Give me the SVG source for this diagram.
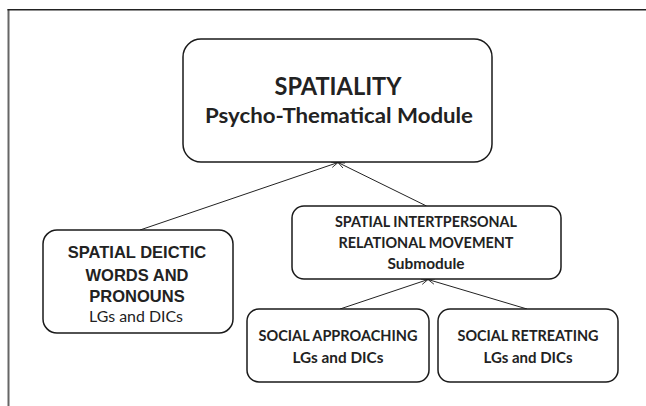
<svg xmlns="http://www.w3.org/2000/svg" width="646" height="406" viewBox="0 0 646 406">
  <style>
    .box { fill: #ffffff; stroke: #1a1a1a; stroke-width: 1.5; }
    .cal { font-family: "Lato", "Open Sans", sans-serif; font-weight: bold; fill: #222222; text-anchor: middle; }
    .calr { font-family: "Lato", "Open Sans", sans-serif; font-weight: normal; fill: #222222; text-anchor: middle; }
    .ar { font-family: "Liberation Sans", Arial, sans-serif; font-weight: bold; fill: #222222; text-anchor: middle; }
    .conn { stroke: #222222; stroke-width: 1; fill: none; marker-end: url(#open); }
  </style>
  <defs>
    <marker id="open" viewBox="0 0 10 10" refX="10" refY="5" markerWidth="7" markerHeight="7" orient="auto" markerUnits="userSpaceOnUse">
      <path d="M0,1 L10,5 L0,9" fill="none" stroke="#222222" stroke-width="1.2"/>
    </marker>
  </defs>
  <rect x="0" y="0" width="646" height="406" fill="#ffffff"/>
  <g id="frame">
    <line x1="8.5" y1="9" x2="8.5" y2="406" stroke="#666666" stroke-width="2"/>
    <line x1="7.5" y1="9.7" x2="646" y2="9.7" stroke="#222222" stroke-width="1.5"/>
  </g>
  <g id="connectors">
    <line class="conn" x1="140" y1="230" x2="338" y2="162.5"/>
    <line class="conn" x1="426.5" y1="206" x2="338" y2="162.5"/>
    <line class="conn" x1="340" y1="309" x2="428" y2="279.5"/>
    <line class="conn" x1="527" y1="309" x2="428" y2="279.5"/>
  </g>
  <g id="node-spatiality">
    <rect class="box" x="183" y="39" width="309" height="123" rx="18"/>
    <text class="cal" x="338" y="95" font-size="24" textLength="127" lengthAdjust="spacingAndGlyphs">SPATIALITY</text>
    <text class="cal" x="339" y="123" font-size="21.5" textLength="268" lengthAdjust="spacingAndGlyphs">Psycho-Thematical Module</text>
  </g>
  <g id="node-deictic">
    <rect class="box" x="43" y="230" width="190" height="103" rx="14"/>
    <text class="ar" x="137" y="258" font-size="16.5">SPATIAL DEICTIC</text>
    <text class="ar" x="137" y="281" font-size="16.5">WORDS AND</text>
    <text class="ar" x="137" y="302" font-size="16.5">PRONOUNS</text>
    <text class="calr" x="136" y="322" font-size="15.5" textLength="94" lengthAdjust="spacingAndGlyphs">LGs and DICs</text>
  </g>
  <g id="node-movement">
    <rect class="box" x="292" y="206" width="269" height="73" rx="12"/>
    <text class="cal" x="426" y="227" font-size="15" textLength="182" lengthAdjust="spacingAndGlyphs">SPATIAL INTERTPERSONAL</text>
    <text class="cal" x="426" y="248" font-size="15" textLength="175" lengthAdjust="spacingAndGlyphs">RELATIONAL MOVEMENT</text>
    <text class="cal" x="426" y="269" font-size="15" textLength="77" lengthAdjust="spacingAndGlyphs">Submodule</text>
  </g>
  <g id="node-approaching">
    <rect class="box" x="247" y="309" width="182" height="73" rx="12"/>
    <text class="cal" x="338" y="341" font-size="15.2" textLength="159" lengthAdjust="spacingAndGlyphs">SOCIAL APPROACHING</text>
    <text class="cal" x="338" y="363" font-size="15.2" textLength="91" lengthAdjust="spacingAndGlyphs">LGs and DICs</text>
  </g>
  <g id="node-retreating">
    <rect class="box" x="438" y="309" width="180" height="73" rx="12"/>
    <text class="cal" x="528" y="341" font-size="15.2" textLength="141" lengthAdjust="spacingAndGlyphs">SOCIAL RETREATING</text>
    <text class="cal" x="528" y="363" font-size="15.2" textLength="89" lengthAdjust="spacingAndGlyphs">LGs and DICs</text>
  </g>
</svg>
